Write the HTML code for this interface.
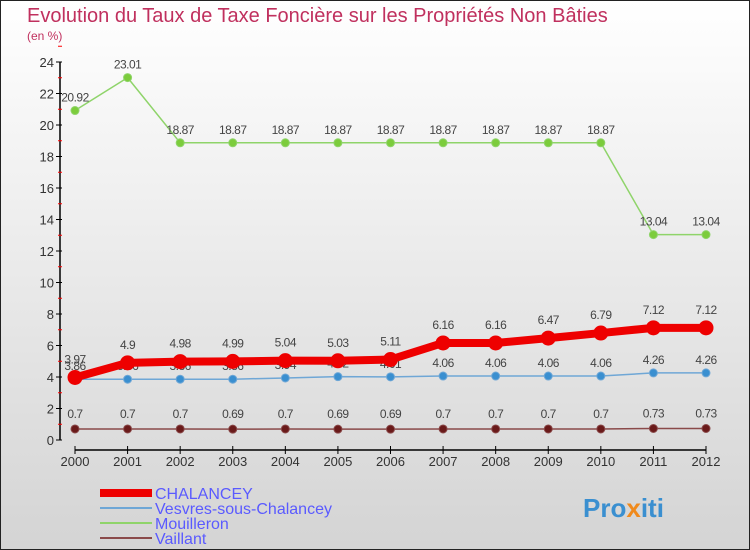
<!DOCTYPE html>
<html><head><meta charset="utf-8"><style>
body{margin:0;width:750px;height:550px;overflow:hidden;font-family:"Liberation Sans",sans-serif}
#c{position:absolute;left:0;top:0;width:748px;height:548px;border:1px solid #222;background:linear-gradient(#fff,#d4d4d4)}
</style></head><body>
<div id="c">
<svg id="s" width="750" height="550" style="position:absolute;left:-1px;top:-1px">
<text x="27" y="22" font-size="20" fill="#c0305e">Evolution du Taux de Taxe Foncière sur les Propriétés Non Bâties</text>
<text x="27" y="40" font-size="12" fill="#c0305e">(en %)</text>
<g id="axes"></g><g id="series"></g>
<g>
<line x1="100" y1="493" x2="152" y2="493" stroke="#e00" stroke-width="8"/>
<text x="155" y="499" font-size="16" fill="#5a5aff">CHALANCEY</text>
<line x1="100" y1="508" x2="152" y2="508" stroke="#6fa7d6" stroke-width="2"/>
<text x="155" y="514" font-size="16" fill="#5a5aff">Vesvres-sous-Chalancey</text>
<line x1="100" y1="523" x2="152" y2="523" stroke="#8fd46a" stroke-width="2"/>
<text x="155" y="529" font-size="16" fill="#5a5aff">Mouilleron</text>
<line x1="100" y1="538" x2="152" y2="538" stroke="#8a4a4a" stroke-width="2"/>
<text x="155" y="544" font-size="16" fill="#5a5aff">Vaillant</text>
</g>
<text x="583" y="517" font-size="26" font-weight="bold" fill="#3a8fd0">Pro<tspan fill="#f08a1c">x</tspan>iti</text>
</svg></div>
<script>
const years=[2000,2001,2002,2003,2004,2005,2006,2007,2008,2009,2010,2011,2012];
const yTicks=[0,2,4,6,8,10,12,14,16,18,20,22,24];
const chalancey=[3.97,4.9,4.98,4.99,5.04,5.03,5.11,6.16,6.16,6.47,6.79,7.12,7.12];
const vesvres=[3.86,3.86,3.86,3.86,3.94,4.02,4.01,4.06,4.06,4.06,4.06,4.26,4.26];
const mouilleron=[20.92,23.01,18.87,18.87,18.87,18.87,18.87,18.87,18.87,18.87,18.87,13.04,13.04];
const vaillant=[0.7,0.7,0.7,0.69,0.7,0.69,0.69,0.7,0.7,0.7,0.7,0.73,0.73];
const NS='http://www.w3.org/2000/svg';
const X=i=>75+i*(706-75)/(years.length-1);
const Y=v=>440-v*(440-62)/24;
function el(t,a,p){const e=document.createElementNS(NS,t);for(const k in a)e.setAttribute(k,a[k]);p.appendChild(e);return e;}
const ax=document.getElementById('axes'),sg=document.getElementById('series');
let l=el('line',{x1:60,y1:Y(24),x2:60,y2:Y(0),stroke:'#000','stroke-width':1.5},ax);


yTicks.forEach(v=>{el('line',{x1:56,y1:Y(v),x2:62,y2:Y(v),stroke:'#000'},ax);
el('line',{x1:58,y1:Y(v+1),x2:62,y2:Y(v+1),stroke:'#f00'},ax);
const t=el('text',{x:54,y:Y(v)+5,'font-size':13,fill:'#333','text-anchor':'end'},ax);t.textContent=v;

});
l=el('line',{x1:X(0),y1:450,x2:X(12),y2:450,stroke:'#000','stroke-width':1.5},ax);


years.forEach((y,i)=>{el('line',{x1:X(i),y1:446,x2:X(i),y2:454,stroke:'#000'},ax);
const t=el('text',{x:X(i),y:466,'font-size':13,fill:'#333','text-anchor':'middle'},ax);t.textContent=y;

});
function series(d,name,col,w,r,dot,dy){
const g=el('g',{},sg);


el('polyline',{points:d.map((v,i)=>X(i)+','+Y(v)).join(' '),fill:'none',stroke:col,'stroke-width':w,'stroke-linejoin':'round'},g);
d.forEach((v,i)=>{const c=el('circle',{cx:X(i),cy:Y(v),r:r,fill:dot,stroke:col,'stroke-width':1},g);


const t=el('text',{x:X(i),y:Y(v)-dy,'font-size':12,fill:'#444','text-anchor':'middle','letter-spacing':'-0.5'},g);t.textContent=v;

});}
series(mouilleron,'mouilleron','#8fd46a',1.5,4,'#7ccc3c',9);
series(vaillant,'vaillant','#8a4a4a',1.5,4,'#6a1a1a',11);
series(vesvres,'vesvres','#6fa7d6',1.5,4,'#3a8fd0',9);
series(chalancey,'chalancey','#e00',8,7,'#e00',14);
</script>
</body></html>
